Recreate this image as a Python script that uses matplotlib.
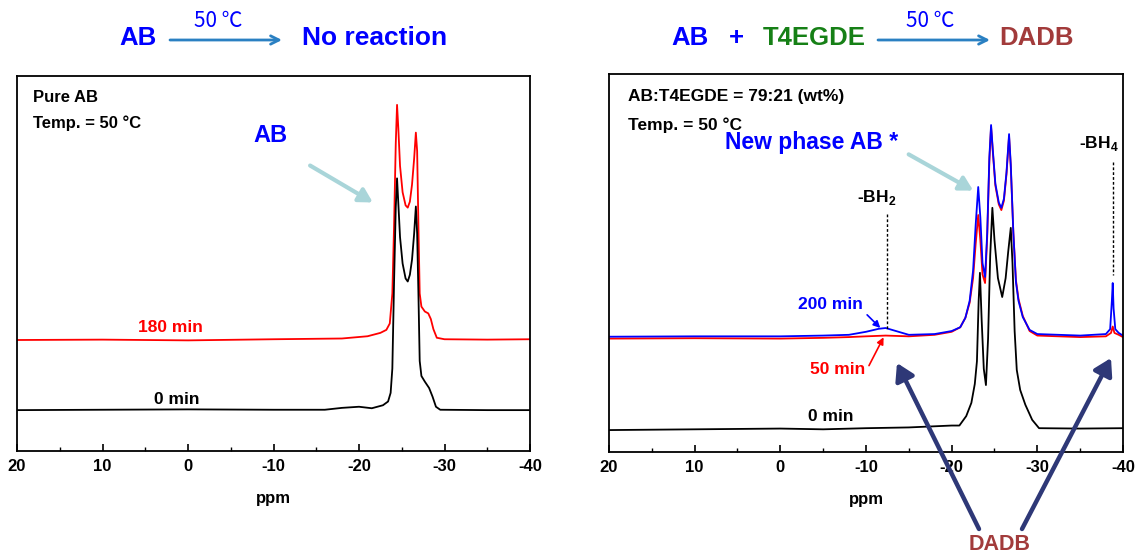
import matplotlib
matplotlib.use("Agg")
import matplotlib.pyplot as plt
from matplotlib.ticker import MultipleLocator

plt.rcParams['font.family'] = ['Liberation Sans', 'DejaVu Sans']
plt.rcParams['font.weight'] = 'bold'
plt.rcParams['axes.unicode_minus'] = False
plt.rcParams['mathtext.fontset'] = 'custom'
plt.rcParams['mathtext.rm'] = 'Liberation Sans:bold'
plt.rcParams['mathtext.bf'] = 'Liberation Sans:bold'

# ---- data (ppm, relative intensity 0..100) ----
# left panel: pure AB at 50 C
ab_ppm_180 = [20, 10, 0, -10, -18, -21, -22.5, -23.2, -23.6, -23.9, -24.1, -24.3, -24.45, -24.6, -24.8,
              -25.1, -25.45, -25.7, -25.95, -26.2, -26.45, -26.65, -26.8, -26.95, -27.1, -27.3, -27.7,
              -28.1, -28.4, -28.7, -29.1, -30, -35, -40]
ab_int_180 = [29.6, 29.7, 29.5, 29.8, 30.0, 30.6, 31.5, 32.3, 34.0, 42.0, 60.0, 82.0, 92.3, 86.0, 76.0,
              69.0, 65.5, 64.9, 66.5, 71.0, 78.0, 84.9, 80.0, 60.0, 42.0, 38.5, 37.2,
              36.7, 35.2, 32.5, 30.2, 29.8, 29.7, 29.8]

ab_ppm_0 = [20, 10, 0, -10, -16, -18, -20, -21.5, -22.8, -23.4, -23.7, -23.9, -24.1, -24.3, -24.45, -24.6,
            -24.8, -25.1, -25.45, -25.7, -25.95, -26.2, -26.45, -26.65, -26.8, -26.95, -27.1, -27.3, -27.7,
            -28.2, -28.6, -29.0, -29.5, -35, -40]
ab_int_0 = [10.9, 11.0, 11.1, 11.0, 11.0, 11.5, 11.8, 11.4, 12.2, 13.2, 15.5, 22.0, 45.0, 65.0, 72.7, 66.0,
            57.0, 50.0, 46.0, 45.2, 47.0, 51.0, 58.0, 65.2, 58.0, 42.0, 24.0, 20.0, 18.5,
            16.8, 14.5, 11.8, 11.0, 10.9, 10.9]

# right panel: AB + T4EGDE at 50 C
mix_ppm_200 = [20, 10, 0, -5, -8, -10, -11.5, -12.3, -13.5, -15, -18, -20, -21.0, -21.6, -22.1, -22.5, -22.8,
               -23.1, -23.35, -23.6, -23.9, -24.15, -24.4, -24.6, -24.8, -25.1, -25.5, -25.8, -26.1, -26.4,
               -26.7, -26.9, -27.2, -27.5, -27.8, -28.3, -29.1, -30, -35, -38.0, -38.5, -38.7, -38.8, -38.9,
               -39.1, -39.5, -40]
mix_int_200 = [30.5, 30.6, 30.6, 30.8, 31.0, 31.8, 32.6, 32.8, 32.0, 31.0, 31.2, 32.0, 33.0, 35.5, 40.0, 48.0, 60.0,
               70.1, 62.0, 50.0, 46.3, 58.0, 78.0, 86.5, 80.0, 71.0, 66.0, 64.6, 67.0, 74.0,
               84.1, 76.0, 58.0, 45.0, 40.0, 35.7, 32.3, 31.2, 30.8, 31.2, 32.5, 40.0, 44.7, 38.0,
               32.5, 31.5, 30.8]

mix_ppm_50 = [20, 10, 0, -5, -8, -10, -12.3, -15, -18, -20, -21.0, -21.6, -22.1, -22.5, -22.8, -23.1, -23.35,
              -23.6, -23.9, -24.15, -24.4, -24.6, -24.8, -25.1, -25.5, -25.8, -26.1, -26.4, -26.7, -26.9,
              -27.2, -27.5, -27.8, -28.3, -29.1, -30, -35, -38.0, -38.6, -38.8, -39.0, -39.5, -40]
mix_int_50 = [30.0, 30.1, 30.0, 30.2, 30.4, 30.6, 30.8, 30.6, 31.0, 31.8, 33.0, 35.5, 39.5, 46.0, 55.0, 62.7, 56.0,
              47.0, 44.7, 57.0, 77.0, 86.0, 79.5, 70.5, 65.5, 64.0, 66.5, 73.5, 83.5, 75.5,
              58.0, 45.5, 40.5, 36.0, 32.0, 30.8, 30.4, 30.6, 31.5, 33.2, 31.5, 31.0, 30.4]

mix_ppm_0 = [20, 10, 0, -5, -10, -15, -18, -20, -20.9, -21.7, -22.3, -22.7, -22.95, -23.15, -23.3, -23.5,
             -23.75, -24.0, -24.25, -24.5, -24.75, -25.0, -25.4, -25.9, -26.3, -26.6, -26.9, -27.1, -27.35,
             -27.6, -28.0, -28.6, -29.4, -30.2, -35, -40]
mix_int_0 = [5.8, 6.0, 6.2, 6.0, 6.3, 6.5, 6.8, 7.0, 7.0, 9.5, 13.0, 18.0, 24.0, 40.0, 47.4, 35.0,
             22.0, 17.7, 30.0, 52.0, 64.6, 56.0, 46.0, 41.0, 46.0, 53.0, 59.3, 50.0, 32.0,
             21.7, 16.4, 12.5, 8.5, 6.3, 6.2, 6.3]

major_ticks = [20, 10, 0, -10, -20, -30, -40]

W, H = 1141, 559
fig = plt.figure(figsize=(W / 100, H / 100), dpi=100)


def px(x, y):
    # top-left pixel -> figure fraction
    return x / W, 1 - y / H


def setup(ax):
    ax.set_xlim(20, -40)
    ax.set_ylim(0, 100)
    ax.set_xticks(major_ticks)
    ax.xaxis.set_minor_locator(MultipleLocator(5))
    ax.set_yticks([])
    ax.tick_params(axis='x', which='major', direction='in', length=5, width=1.2, pad=6, labelsize=12)
    ax.tick_params(axis='x', which='minor', direction='in', length=3, width=1.0)
    for s in ax.spines.values():
        s.set_linewidth(1.3)
    ax.set_xlabel('ppm', fontsize=12, fontweight='bold', labelpad=12)


ax1 = fig.add_axes([17 / W, 1 - 451 / H, 513 / W, 375 / H])
ax2 = fig.add_axes([609 / W, 1 - 452 / H, 514 / W, 378 / H])
setup(ax1)
setup(ax2)

lw = 1.3

# ---- left panel ----
ax1.plot(ab_ppm_180, ab_int_180, color='red', lw=lw)
ax1.plot(ab_ppm_0, ab_int_0, color='black', lw=lw)
ax1.text(0.031, 0.944, 'Pure AB', transform=ax1.transAxes, fontsize=12, va='center')
ax1.text(0.031, 0.873, 'Temp. = 50 °C', transform=ax1.transAxes, fontsize=12, va='center')
ax1.text(-9.7, 84, 'AB', color='#0000ff', fontsize=17, ha='center', va='center')
ax1.annotate('', xy=(-21.9, 65.9), xytext=(-14.0, 76.5),
             arrowprops=dict(arrowstyle='-|>,head_width=0.45,head_length=0.8', color='#a9d5d9', lw=3))
ax1.text(2.1, 32.8, '180 min', color='red', fontsize=12.5, ha='center', va='center')
ax1.text(1.3, 13.8, '0 min', color='black', fontsize=12.5, ha='center', va='center')

# ---- right panel ----
ax2.plot(mix_ppm_0, mix_int_0, color='black', lw=lw)
ax2.plot(mix_ppm_50, mix_int_50, color='red', lw=lw)
ax2.plot(mix_ppm_200, mix_int_200, color='#0000ff', lw=lw)
ax2.text(0.037, 0.94, 'AB:T4EGDE = 79:21 (wt%)', transform=ax2.transAxes, fontsize=12.5, va='center')
ax2.text(0.037, 0.865, 'Temp. = 50 °C', transform=ax2.transAxes, fontsize=12.5, va='center')
ax2.text(-3.6, 82, 'New phase AB *', color='#0000ff', fontsize=16.5, ha='center', va='center')
ax2.annotate('', xy=(-22.8, 68.8), xytext=(-14.7, 79.1),
             arrowprops=dict(arrowstyle='-|>,head_width=0.45,head_length=0.8', color='#a9d5d9', lw=3))
ax2.text(-11.3, 67.2, r'-BH$_2$', fontsize=12.5, ha='center', va='center')
ax2.plot([-12.5, -12.5], [63, 32.5], color='black', lw=1, ls=(0, (2, 1.5)))
ax2.text(-37.2, 81.7, r'-BH$_4$', fontsize=12.5, ha='center', va='center')
ax2.plot([-38.8, -38.8], [76.7, 46.8], color='black', lw=1, ls=(0, (2, 1.5)))
ax2.text(-5.8, 38.9, '200 min', color='#0000ff', fontsize=12.5, ha='center', va='center')
ax2.annotate('', xy=(-11.9, 32.3), xytext=(-9.9, 36.8),
             arrowprops=dict(arrowstyle='-|>,head_width=0.2,head_length=0.4', color='#0000ff', lw=1.2))
ax2.text(-6.7, 21.7, '50 min', color='red', fontsize=12.5, ha='center', va='center')
ax2.annotate('', xy=(-12.2, 31.0), xytext=(-10.2, 22.2),
             arrowprops=dict(arrowstyle='-|>,head_width=0.2,head_length=0.4', color='red', lw=1.2))
ax2.text(-5.9, 9.5, '0 min', color='black', fontsize=12.5, ha='center', va='center')

# DADB arrows over the right panel
navy = '#2e3877'
for tail, tip in [((979, 529), (897, 363)), ((1022, 529), (1111, 358))]:
    ax2.annotate('', xy=px(*tip), xycoords='figure fraction', xytext=px(*tail), textcoords='figure fraction',
                 annotation_clip=False,
                 arrowprops=dict(arrowstyle='-|>,head_width=0.6,head_length=1.0', color=navy, lw=3.2,
                                 shrinkA=0, shrinkB=0), zorder=10)
fig.text(*px(1000, 545), 'DADB', color='#a23b3b', fontsize=15.5, ha='center', va='center')

# ---- reaction schemes on top ----
blue = '#0000ff'
arrow_blue = '#2a80c2'
fig.text(*px(138, 38), 'AB', color=blue, fontsize=18.5, ha='center', va='center')
fig.text(*px(218, 21), '50 ℃', color=blue, fontsize=15, ha='center', va='center', fontweight='normal',
         family=['Noto Sans CJK KR', 'DejaVu Sans'])
fig.text(*px(302, 38), 'No reaction', color=blue, fontsize=19, ha='left', va='center')
fig.text(*px(690, 38), 'AB', color=blue, fontsize=18.5, ha='center', va='center')
fig.text(*px(736, 38), '+', color=blue, fontsize=18.5, ha='center', va='center')
fig.text(*px(763, 38), 'T4EGDE', color='#168016', fontsize=18.5, ha='left', va='center')
fig.text(*px(930, 21), '50 ℃', color=blue, fontsize=15, ha='center', va='center', fontweight='normal',
         family=['Noto Sans CJK KR', 'DejaVu Sans'])
fig.text(*px(999, 38), 'DADB', color='#a23b3b', fontsize=18.5, ha='left', va='center')
for x0, x1 in [(170, 282), (878, 990)]:
    ax1.annotate('', xy=px(x1, 40), xycoords='figure fraction', xytext=px(x0, 40), textcoords='figure fraction',
                 annotation_clip=False,
                 arrowprops=dict(arrowstyle='->,head_width=0.3,head_length=0.6', color=arrow_blue, lw=2,
                                 shrinkA=0, shrinkB=0))

fig.savefig('out.png', dpi=100)
